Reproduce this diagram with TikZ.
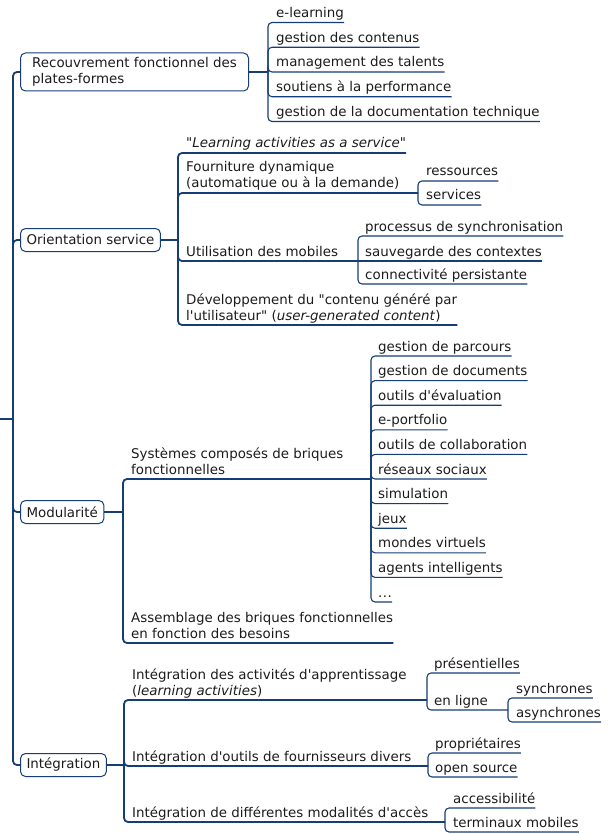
\documentclass[tikz,border=0pt]{standalone}
\usepackage{fontspec}
\setmainfont{DejaVu Sans}[Ligatures=TeXOff]
\definecolor{mapline}{HTML}{163E75}
\definecolor{maptext}{HTML}{1C1C1C}

\tikzset{
	mainbox/.style={draw=mapline, line width=1pt, rounded corners=5pt, fill=white, align=left,
		anchor=west, inner xsep=6pt, inner ysep=3pt, minimum height=23pt, text=maptext},
	topic/.style={inner sep=0pt, anchor=south west, text depth=4.8pt, text=maptext},
	topictwo/.style={inner sep=0pt, anchor=south west, align=left, text=maptext},
	branchline/.style={draw=mapline, line width=1.8pt, rounded corners=4pt},
	leafline/.style={draw=mapline, line width=1.1pt, rounded corners=4pt}
}

\begin{document}
\begin{tikzpicture}[x=1pt,y=-1pt,font=\fontsize{13.4}{16}\selectfont]
	\useasboundingbox (0,0) rectangle (608,834);

	\def \leafgap {24.6}

	% draw the main topics
	\node[mainbox, minimum width=228pt, minimum height=38pt] (rec) at (20,72) {Recouvrement fonctionnel des\\plates-formes};
	\node[mainbox, minimum width=138pt] (ori) at (20,240) {Orientation service};
	\node[mainbox, minimum width=83pt] (mod) at (20,512) {Modularité};
	\node[mainbox, minimum width=85pt] (int) at (20,765) {Intégration};

	% root line
	\coordinate (rootin) at (0,419);
	\coordinate (root) at (13,419);
	\draw[branchline] (rootin) -- (root);
	\foreach \b in {rec,ori,mod,int} {
		\draw[branchline] (root) |- (\b.west);
	}

	% brackets
	\coordinate (B1) at (268,72);
	\coordinate (B2) at (178,240);
	\coordinate (B22) at (418,193);
	\coordinate (B23) at (358,261);
	\coordinate (B3) at (123,512);
	\coordinate (B31) at (371,479);
	\coordinate (B4) at (124,765);
	\coordinate (B41) at (427,700);
	\coordinate (B412) at (508,710);
	\coordinate (B42) at (428,766);
	\coordinate (B43) at (445,822);

	\draw[branchline] (rec.east) -- (B1);
	\draw[branchline] (ori.east) -- (B2);
	\draw[branchline] (mod.east) -- (B3);
	\draw[branchline] (int.east) -- (B4);

	% recouvrement
	\foreach \txt [count=\i] in {e-learning, gestion des contenus, management des talents,
		soutiens à la performance, gestion de la documentation technique} {
		\node[topic] (rec\i) at (276,{22.5+(\i-1)*24.75}) {\txt};
		\draw[leafline] (B1) |- (rec\i.south east);
	}

	% orientation service
	\node[topic] (ori1) at (186,153) {"\textit{Learning activities as a service}"};
	\node[topictwo] (ori2) at (186,193) {Fourniture dynamique\\(automatique ou à la demande)\strut};
	\node[topic] (ori3) at (186,261) {Utilisation des mobiles};
	\node[topictwo] (ori4) at (186,325) {Développement du "contenu généré par\\l'utilisateur" (\textit{user-generated content})\strut};
	\draw[branchline] (B2) |- (ori1.south east);
	\draw[branchline] (B2) |- (B22);
	\draw[branchline] (B2) |- (B23);
	\draw[branchline] (B2) |- (ori4.south east);

	\node[topic] (res) at (426,181) {ressources};
	\node[topic] (ser) at (426,205) {services};
	\draw[leafline] (B22) |- (res.south east);
	\draw[leafline] (B22) |- (ser.south east);

	\node[topic] (sync) at (365,236) {processus de synchronisation};
	\node[topic] (ctx) at (365,261) {sauvegarde des contextes};
	\node[topic] (conn) at (365,284) {connectivité persistante};
	\draw[leafline] (B23) |- (sync.south east);
	\draw[leafline] (B23) -- (ctx.south east);
	\draw[leafline] (B23) |- (conn.south east);

	% modularite
	\node[topictwo] (sys) at (131,479) {Systèmes composés de briques\\fonctionnelles\strut};
	\node[topictwo] (ass) at (131,643) {Assemblage des briques fonctionnelles\\en fonction des besoins\strut};
	\draw[branchline] (B3) |- (B31);
	\draw[branchline] (B3) |- (ass.south east);

	\foreach \txt [count=\i] in {gestion de parcours, gestion de documents, outils d'évaluation,
		e-portfolio, outils de collaboration, réseaux sociaux, simulation, jeux,
		mondes virtuels, agents intelligents} {
		\node[topic] (mod\i) at (378,{356+(\i-1)*\leafgap}) {\txt};
		\draw[leafline] (B31) |- (mod\i.south east);
	}
	\node[topic] (moddots) at (378,602) {.\kern0.5pt.\kern0.5pt.};
	\draw[leafline] (B31) |- (moddots.south east);

	% integration
	\node[topictwo] (act) at (132,700) {Intégration des activités d'apprentissage\\(\textit{learning activities})\strut};
	\node[topic] (out) at (132,766) {Intégration d'outils de fournisseurs divers};
	\node[topic] (acc) at (132,822) {Intégration de différentes modalités d'accès};
	\draw[branchline] (B4) |- (B41);
	\draw[branchline] (B4) |- (B42);
	\draw[branchline] (B4) |- (B43);

	\node[topic] (pres) at (434,673) {présentielles};
	\node[topic] (lig) at (434,710) {en ligne};
	\draw[leafline] (B41) |- (pres.south east);
	\draw[leafline] (B41) |- (B412);

	\node[topic] (syn) at (516,698) {synchrones};
	\node[topic] (asyn) at (516,722) {asynchrones};
	\draw[leafline] (B412) |- (syn.south east);
	\draw[leafline] (B412) |- (asyn.south east);

	\node[topic] (prop) at (435,753) {propriétaires};
	\node[topic] (open) at (435,777) {open source};
	\draw[leafline] (B42) |- (prop.south east);
	\draw[leafline] (B42) |- (open.south east);

	\node[topic] (acs) at (453,808) {accessibilité};
	\node[topic] (term) at (453,832) {terminaux mobiles};
	\draw[leafline] (B43) |- (acs.south east);
	\draw[leafline] (B43) |- (term.south east);
\end{tikzpicture}
\end{document}
